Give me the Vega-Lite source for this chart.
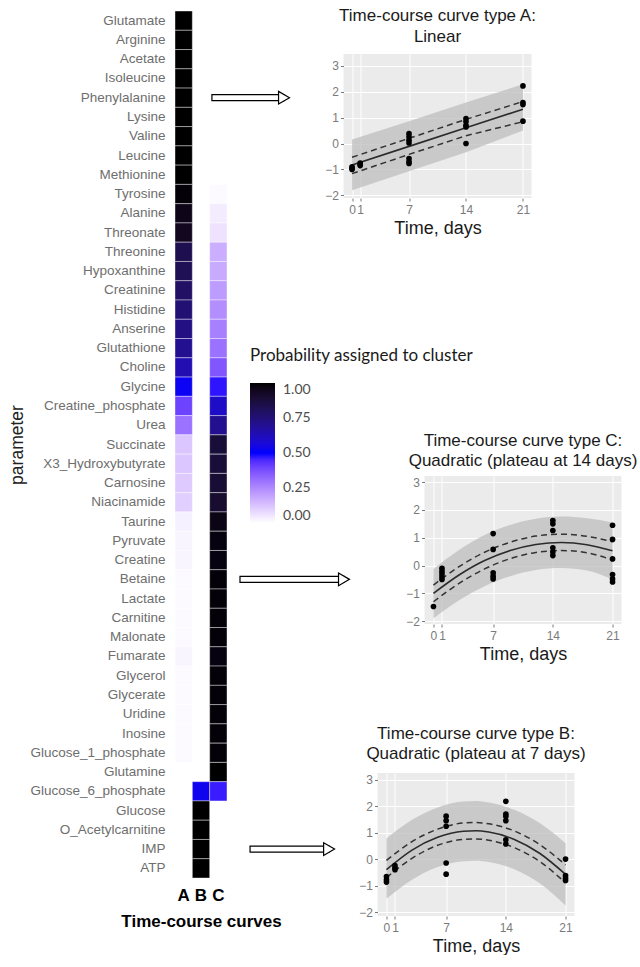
{
  "$schema": "https://vega.github.io/schema/vega-lite/v6.json",
  "background": "white",
  "padding": {"left": 8, "top": 7, "right": 0, "bottom": 0},
  "bounds": "flush",
  "spacing": 116.5,
  "config": {
    "view": {"stroke": null},
    "font": "Liberation Sans",
    "axisQuantitative": {"labelOverlap": false, "labelFontSize": 12, "labelColor": "#7a7a7a", "tickColor": "#7a7a7a", "tickSize": 3, "domain": false, "gridColor": "white", "gridWidth": 1, "labelFlush": false}
  },
  "datasets": {
    "heat": [
      {"parameter": "Glutamate", "cluster": "A", "prob": 1},
      {"parameter": "Arginine", "cluster": "A", "prob": 1},
      {"parameter": "Acetate", "cluster": "A", "prob": 1},
      {"parameter": "Isoleucine", "cluster": "A", "prob": 1},
      {"parameter": "Phenylalanine", "cluster": "A", "prob": 1},
      {"parameter": "Lysine", "cluster": "A", "prob": 1},
      {"parameter": "Valine", "cluster": "A", "prob": 1},
      {"parameter": "Leucine", "cluster": "A", "prob": 1},
      {"parameter": "Methionine", "cluster": "A", "prob": 1},
      {"parameter": "Tyrosine", "cluster": "A", "prob": 0.99},
      {"parameter": "Tyrosine", "cluster": "C", "prob": 0.01},
      {"parameter": "Alanine", "cluster": "A", "prob": 0.96},
      {"parameter": "Alanine", "cluster": "C", "prob": 0.04},
      {"parameter": "Threonate", "cluster": "A", "prob": 0.94},
      {"parameter": "Threonate", "cluster": "C", "prob": 0.06},
      {"parameter": "Threonine", "cluster": "A", "prob": 0.83},
      {"parameter": "Threonine", "cluster": "C", "prob": 0.17},
      {"parameter": "Hypoxanthine", "cluster": "A", "prob": 0.82},
      {"parameter": "Hypoxanthine", "cluster": "C", "prob": 0.18},
      {"parameter": "Creatinine", "cluster": "A", "prob": 0.79},
      {"parameter": "Creatinine", "cluster": "C", "prob": 0.21},
      {"parameter": "Histidine", "cluster": "A", "prob": 0.76},
      {"parameter": "Histidine", "cluster": "C", "prob": 0.24},
      {"parameter": "Anserine", "cluster": "A", "prob": 0.73},
      {"parameter": "Anserine", "cluster": "C", "prob": 0.27},
      {"parameter": "Glutathione", "cluster": "A", "prob": 0.7},
      {"parameter": "Glutathione", "cluster": "C", "prob": 0.3},
      {"parameter": "Choline", "cluster": "A", "prob": 0.64},
      {"parameter": "Choline", "cluster": "C", "prob": 0.36},
      {"parameter": "Glycine", "cluster": "A", "prob": 0.52},
      {"parameter": "Glycine", "cluster": "C", "prob": 0.48},
      {"parameter": "Creatine_phosphate", "cluster": "A", "prob": 0.4},
      {"parameter": "Creatine_phosphate", "cluster": "C", "prob": 0.6},
      {"parameter": "Urea", "cluster": "A", "prob": 0.3},
      {"parameter": "Urea", "cluster": "C", "prob": 0.7},
      {"parameter": "Succinate", "cluster": "A", "prob": 0.12},
      {"parameter": "Succinate", "cluster": "C", "prob": 0.88},
      {"parameter": "X3_Hydroxybutyrate", "cluster": "A", "prob": 0.12},
      {"parameter": "X3_Hydroxybutyrate", "cluster": "C", "prob": 0.88},
      {"parameter": "Carnosine", "cluster": "A", "prob": 0.11},
      {"parameter": "Carnosine", "cluster": "C", "prob": 0.89},
      {"parameter": "Niacinamide", "cluster": "A", "prob": 0.1},
      {"parameter": "Niacinamide", "cluster": "C", "prob": 0.9},
      {"parameter": "Taurine", "cluster": "A", "prob": 0.03},
      {"parameter": "Taurine", "cluster": "C", "prob": 0.97},
      {"parameter": "Pyruvate", "cluster": "A", "prob": 0.02},
      {"parameter": "Pyruvate", "cluster": "C", "prob": 0.98},
      {"parameter": "Creatine", "cluster": "A", "prob": 0.02},
      {"parameter": "Creatine", "cluster": "C", "prob": 0.98},
      {"parameter": "Betaine", "cluster": "A", "prob": 0.01},
      {"parameter": "Betaine", "cluster": "C", "prob": 0.99},
      {"parameter": "Lactate", "cluster": "A", "prob": 0.01},
      {"parameter": "Lactate", "cluster": "C", "prob": 0.99},
      {"parameter": "Carnitine", "cluster": "A", "prob": 0.01},
      {"parameter": "Carnitine", "cluster": "C", "prob": 0.99},
      {"parameter": "Malonate", "cluster": "A", "prob": 0.01},
      {"parameter": "Malonate", "cluster": "C", "prob": 0.99},
      {"parameter": "Fumarate", "cluster": "A", "prob": 0.02},
      {"parameter": "Fumarate", "cluster": "C", "prob": 0.98},
      {"parameter": "Glycerol", "cluster": "A", "prob": 0.01},
      {"parameter": "Glycerol", "cluster": "C", "prob": 0.99},
      {"parameter": "Glycerate", "cluster": "A", "prob": 0.01},
      {"parameter": "Glycerate", "cluster": "C", "prob": 0.99},
      {"parameter": "Uridine", "cluster": "A", "prob": 0.01},
      {"parameter": "Uridine", "cluster": "C", "prob": 0.99},
      {"parameter": "Inosine", "cluster": "A", "prob": 0.01},
      {"parameter": "Inosine", "cluster": "C", "prob": 0.99},
      {"parameter": "Glucose_1_phosphate", "cluster": "A", "prob": 0.01},
      {"parameter": "Glucose_1_phosphate", "cluster": "C", "prob": 0.99},
      {"parameter": "Glutamine", "cluster": "C", "prob": 1},
      {"parameter": "Glucose_6_phosphate", "cluster": "B", "prob": 0.53},
      {"parameter": "Glucose_6_phosphate", "cluster": "C", "prob": 0.47},
      {"parameter": "Glucose", "cluster": "B", "prob": 1},
      {"parameter": "O_Acetylcarnitine", "cluster": "B", "prob": 1},
      {"parameter": "IMP", "cluster": "B", "prob": 1},
      {"parameter": "ATP", "cluster": "B", "prob": 1}
    ],
    "arrows": [
      {"parameter": "Phenylalanine", "x_start": 2.13, "x_end": 6.29},
      {"parameter": "Betaine", "x_start": 3.75, "x_end": 9.75},
      {"parameter": "IMP", "x_start": 4.33, "x_end": 8.89}
    ],
    "curveA": [
      {"t": 0, "fit": -0.83, "ci_lo": -1.16, "ci_hi": -0.53, "band_lo": -1.8, "band_hi": 0.15},
      {"t": 7, "fit": -0.11, "ci_lo": -0.42, "ci_hi": 0.2, "band_lo": -1.07, "band_hi": 0.86},
      {"t": 14, "fit": 0.61, "ci_lo": 0.3, "ci_hi": 0.93, "band_lo": -0.34, "band_hi": 1.58},
      {"t": 21, "fit": 1.32, "ci_lo": 0.84, "ci_hi": 1.62, "band_lo": 0.5, "band_hi": 2.28}
    ],
    "pointsA": [
      {"t": 0, "value": -0.9}, {"t": 0, "value": -0.95}, {"t": 0, "value": -1.0},
      {"t": 1, "value": -0.75}, {"t": 1, "value": -0.8}, {"t": 1, "value": -0.85},
      {"t": 7, "value": 0.38}, {"t": 7, "value": 0.26}, {"t": 7, "value": 0.13}, {"t": 7, "value": 0.02}, {"t": 7, "value": -0.58}, {"t": 7, "value": -0.7}, {"t": 7, "value": -0.77},
      {"t": 14, "value": 0.96}, {"t": 14, "value": 0.85}, {"t": 14, "value": 0.7}, {"t": 14, "value": 0.64}, {"t": 14, "value": 0.0},
      {"t": 21, "value": 2.22}, {"t": 21, "value": 1.58}, {"t": 21, "value": 1.5}, {"t": 21, "value": 0.86}
    ],
    "curveC": [
      {"t": 0, "fit": -1.0, "ci_lo": -1.3, "ci_hi": -0.7, "band_lo": -1.9, "band_hi": -0.12},
      {"t": 3, "fit": -0.34, "ci_lo": -0.64, "ci_hi": -0.04, "band_lo": -1.25, "band_hi": 0.56},
      {"t": 6, "fit": 0.18, "ci_lo": -0.12, "ci_hi": 0.48, "band_lo": -0.74, "band_hi": 1.1},
      {"t": 9, "fit": 0.54, "ci_lo": 0.25, "ci_hi": 0.84, "band_lo": -0.38, "band_hi": 1.46},
      {"t": 12, "fit": 0.76, "ci_lo": 0.47, "ci_hi": 1.06, "band_lo": -0.16, "band_hi": 1.68},
      {"t": 15, "fit": 0.83, "ci_lo": 0.54, "ci_hi": 1.13, "band_lo": -0.09, "band_hi": 1.76},
      {"t": 18, "fit": 0.75, "ci_lo": 0.46, "ci_hi": 1.05, "band_lo": -0.18, "band_hi": 1.7},
      {"t": 21, "fit": 0.53, "ci_lo": 0.2, "ci_hi": 0.86, "band_lo": -0.5, "band_hi": 1.55}
    ],
    "pointsC": [
      {"t": 0, "value": -1.47},
      {"t": 1, "value": -0.1}, {"t": 1, "value": -0.2}, {"t": 1, "value": -0.3}, {"t": 1, "value": -0.4}, {"t": 1, "value": -0.5},
      {"t": 7, "value": 1.15}, {"t": 7, "value": 0.58}, {"t": 7, "value": -0.26}, {"t": 7, "value": -0.38}, {"t": 7, "value": -0.48},
      {"t": 14, "value": 1.62}, {"t": 14, "value": 1.5}, {"t": 14, "value": 1.26}, {"t": 14, "value": 0.64}, {"t": 14, "value": 0.49}, {"t": 14, "value": 0.36},
      {"t": 21, "value": 1.45}, {"t": 21, "value": 0.94}, {"t": 21, "value": 0.24}, {"t": 21, "value": -0.32}, {"t": 21, "value": -0.48}, {"t": 21, "value": -0.59}
    ],
    "curveB": [
      {"t": 0, "fit": -0.4, "ci_lo": -0.7, "ci_hi": -0.05, "band_lo": -1.5, "band_hi": 0.78},
      {"t": 3, "fit": 0.34, "ci_lo": 0.03, "ci_hi": 0.66, "band_lo": -0.78, "band_hi": 1.48},
      {"t": 6, "fit": 0.82, "ci_lo": 0.52, "ci_hi": 1.13, "band_lo": -0.3, "band_hi": 1.95},
      {"t": 9, "fit": 1.05, "ci_lo": 0.74, "ci_hi": 1.36, "band_lo": -0.08, "band_hi": 2.17},
      {"t": 10.5, "fit": 1.07, "ci_lo": 0.76, "ci_hi": 1.38, "band_lo": -0.06, "band_hi": 2.19},
      {"t": 12, "fit": 1.02, "ci_lo": 0.71, "ci_hi": 1.33, "band_lo": -0.11, "band_hi": 2.14},
      {"t": 15, "fit": 0.74, "ci_lo": 0.43, "ci_hi": 1.06, "band_lo": -0.38, "band_hi": 1.86},
      {"t": 18, "fit": 0.21, "ci_lo": -0.1, "ci_hi": 0.54, "band_lo": -0.92, "band_hi": 1.35},
      {"t": 21, "fit": -0.58, "ci_lo": -0.9, "ci_hi": -0.22, "band_lo": -1.75, "band_hi": 0.6}
    ],
    "pointsB": [
      {"t": 0, "value": -0.66}, {"t": 0, "value": -0.78}, {"t": 0, "value": -0.87},
      {"t": 1, "value": -0.25}, {"t": 1, "value": -0.34}, {"t": 1, "value": -0.4},
      {"t": 7, "value": 1.62}, {"t": 7, "value": 1.45}, {"t": 7, "value": 1.24}, {"t": 7, "value": -0.15}, {"t": 7, "value": -0.57},
      {"t": 14, "value": 2.18}, {"t": 14, "value": 1.7}, {"t": 14, "value": 1.62}, {"t": 14, "value": 1.45}, {"t": 14, "value": 0.73}, {"t": 14, "value": 0.57},
      {"t": 21, "value": 0.0}, {"t": 21, "value": -0.62}, {"t": 21, "value": -0.72}, {"t": 21, "value": -0.81}
    ],
    "empty": []
  },
  "hconcat": [
    {
      "width": 52,
      "height": 867,
      "resolve": {"scale": {"x": "independent"}, "axis": {"x": "independent"}},
      "layer": [
        {
          "data": {"name": "heat"},
          "mark": {"type": "rect", "stroke": "white", "strokeWidth": 0.4},
          "encoding": {
            "x": {"field": "cluster", "type": "nominal", "scale": {"domain": ["A", "B", "C"], "paddingInner": 0, "paddingOuter": 0},
              "axis": {"orient": "bottom", "title": "Time-course curves", "titleFontSize": 17, "titleFontWeight": "bold", "titleColor": "black", "labelFontSize": 17, "labelFontWeight": "bold", "labelColor": "black", "labelAngle": 0, "ticks": false, "domain": false, "labelPadding": 9, "titlePadding": 10}},
            "y": {"field": "parameter", "type": "nominal",
              "scale": {"domain": ["Glutamate", "Arginine", "Acetate", "Isoleucine", "Phenylalanine", "Lysine", "Valine", "Leucine", "Methionine", "Tyrosine", "Alanine", "Threonate", "Threonine", "Hypoxanthine", "Creatinine", "Histidine", "Anserine", "Glutathione", "Choline", "Glycine", "Creatine_phosphate", "Urea", "Succinate", "X3_Hydroxybutyrate", "Carnosine", "Niacinamide", "Taurine", "Pyruvate", "Creatine", "Betaine", "Lactate", "Carnitine", "Malonate", "Fumarate", "Glycerol", "Glycerate", "Uridine", "Inosine", "Glucose_1_phosphate", "Glutamine", "Glucose_6_phosphate", "Glucose", "O_Acetylcarnitine", "IMP", "ATP"], "paddingInner": 0, "paddingOuter": 0},
              "axis": {"title": "parameter", "titleFontSize": 17.5, "titleFontWeight": "normal", "titleColor": "#222222", "labelFontSize": 13.5, "labelColor": "#6e6e6e", "ticks": false, "domain": false, "labelPadding": 10, "titlePadding": 3}},
            "color": {"field": "prob", "type": "quantitative",
              "scale": {"domain": [0, 0.5, 1], "range": ["#ffffff", "#0000ff", "#000000"], "interpolate": "lab"},
              "legend": {"orient": "none", "legendX": 75, "legendY": 337, "direction": "vertical", "title": "Probability assigned to cluster", "titleFont": "Lato", "titleFontSize": 17, "titleFontWeight": "normal", "titleColor": "#1a1a1a", "titlePadding": 18, "titleLimit": 400, "gradientLength": 140, "gradientThickness": 25, "gradientStrokeWidth": 0, "labelFont": "Lato", "labelFontSize": 14, "labelColor": "#4d4d4d", "labelOffset": 8, "values": [0, 0.25, 0.5, 0.75, 1], "format": ".2f", "labelOverlap": false}}
          }
        },
        {
          "data": {"name": "arrows"},
          "mark": {"type": "bar", "height": 6, "fill": "white", "stroke": "black", "strokeWidth": 1.2},
          "encoding": {
            "x": {"field": "x_start", "type": "quantitative", "scale": {"domain": [0, 3], "nice": false, "zero": false}, "axis": null},
            "x2": {"field": "x_end"},
            "y": {"field": "parameter", "type": "nominal"}
          }
        },
        {
          "data": {"name": "arrows"},
          "mark": {"type": "point", "shape": "triangle-right", "filled": true, "fill": "white", "stroke": "black", "strokeWidth": 1.2, "size": 160, "opacity": 1},
          "encoding": {
            "x": {"field": "x_end", "type": "quantitative", "scale": {"domain": [0, 3], "nice": false, "zero": false}, "axis": null},
            "y": {"field": "parameter", "type": "nominal"}
          }
        }
      ]
    },
    {
      "bounds": "flush",
      "spacing": 42,
      "vconcat": [
        {"width": 1, "height": 1, "data": {"name": "empty"}, "mark": {"type": "point", "opacity": 0}, "encoding": {}},
        {
          "bounds": "flush",
          "spacing": 278,
          "vconcat": [
            {
              "width": 188, "height": 144,
              "view": {"fill": "#ebebeb", "stroke": null},
              "title": {"text": ["Time-course curve type A:", "Linear"], "fontSize": 17, "fontWeight": "normal", "color": "#1a1a1a", "anchor": "middle", "offset": 8, "lineHeight": 21},
              "encoding": {
                "x": {"field": "t", "type": "quantitative", "title": "Time, days", "scale": {"domain": [-1.05, 22.05], "nice": false, "zero": false},
                  "axis": {"values": [0, 1, 7, 14, 21], "titleFontSize": 18, "titleFontWeight": "normal", "titleColor": "#1a1a1a", "labelPadding": 3, "titlePadding": 4}}
              },
              "layer": [
                {"data": {"name": "curveA"}, "mark": {"type": "area", "color": "#bdbdbd", "opacity": 0.75},
                  "encoding": {
                    "y": {"field": "band_lo", "type": "quantitative", "title": null, "scale": {"domain": [-2.1, 3.45], "nice": false, "zero": false}, "axis": {"values": [-2, -1, 0, 1, 2, 3], "labelPadding": 2}},
                    "y2": {"field": "band_hi"}
                  }},
                {"data": {"name": "curveA"}, "mark": {"type": "line", "color": "#333333", "strokeWidth": 1.5, "strokeDash": [6, 4]},
                  "encoding": {"y": {"field": "ci_hi", "type": "quantitative", "title": null, "axis": {"values": [-2, -1, 0, 1, 2, 3], "labelPadding": 2}}}},
                {"data": {"name": "curveA"}, "mark": {"type": "line", "color": "#333333", "strokeWidth": 1.5, "strokeDash": [6, 4]},
                  "encoding": {"y": {"field": "ci_lo", "type": "quantitative", "title": null, "axis": {"values": [-2, -1, 0, 1, 2, 3], "labelPadding": 2}}}},
                {"data": {"name": "curveA"}, "mark": {"type": "line", "color": "#2b2b2b", "strokeWidth": 1.6},
                  "encoding": {"y": {"field": "fit", "type": "quantitative", "title": null, "axis": {"values": [-2, -1, 0, 1, 2, 3], "labelPadding": 2}}}},
                {"data": {"name": "pointsA"}, "mark": {"type": "circle", "color": "black", "size": 32, "opacity": 1},
                  "encoding": {"y": {"field": "value", "type": "quantitative", "title": null, "axis": {"values": [-2, -1, 0, 1, 2, 3], "labelPadding": 2}}}}
              ]
            },
            {
              "bounds": "flush",
              "spacing": 297,
              "vconcat": [
                {
                  "bounds": "flush",
                  "spacing": 0,
                  "hconcat": [
                    {"width": 80.5, "height": 148, "data": {"name": "empty"}, "mark": {"type": "point", "opacity": 0}, "encoding": {}},
                    {
                      "width": 197, "height": 148,
                      "view": {"fill": "#ebebeb", "stroke": null},
                      "title": {"text": ["Time-course curve type C:", "Quadratic (plateau at 14 days)"], "fontSize": 17, "fontWeight": "normal", "color": "#1a1a1a", "anchor": "middle", "offset": 6, "lineHeight": 20},
                      "encoding": {
                        "x": {"field": "t", "type": "quantitative", "title": "Time, days", "scale": {"domain": [-1.05, 22.05], "nice": false, "zero": false},
                          "axis": {"values": [0, 1, 7, 14, 21], "titleFontSize": 18, "titleFontWeight": "normal", "titleColor": "#1a1a1a", "labelPadding": 3, "titlePadding": 4}}
                      },
                      "layer": [
                        {"data": {"name": "curveC"}, "mark": {"type": "area", "color": "#bdbdbd", "opacity": 0.75, "interpolate": "monotone"},
                          "encoding": {
                            "y": {"field": "band_lo", "type": "quantitative", "title": null, "scale": {"domain": [-2.1, 3.22], "nice": false, "zero": false}, "axis": {"values": [-2, -1, 0, 1, 2, 3], "labelPadding": 2}},
                            "y2": {"field": "band_hi"}
                          }},
                        {"data": {"name": "curveC"}, "mark": {"type": "line", "color": "#333333", "strokeWidth": 1.5, "strokeDash": [6, 4], "interpolate": "monotone"},
                          "encoding": {"y": {"field": "ci_hi", "type": "quantitative", "title": null, "axis": {"values": [-2, -1, 0, 1, 2, 3], "labelPadding": 2}}}},
                        {"data": {"name": "curveC"}, "mark": {"type": "line", "color": "#333333", "strokeWidth": 1.5, "strokeDash": [6, 4], "interpolate": "monotone"},
                          "encoding": {"y": {"field": "ci_lo", "type": "quantitative", "title": null, "axis": {"values": [-2, -1, 0, 1, 2, 3], "labelPadding": 2}}}},
                        {"data": {"name": "curveC"}, "mark": {"type": "line", "color": "#2b2b2b", "strokeWidth": 1.6, "interpolate": "monotone"},
                          "encoding": {"y": {"field": "fit", "type": "quantitative", "title": null, "axis": {"values": [-2, -1, 0, 1, 2, 3], "labelPadding": 2}}}},
                        {"data": {"name": "pointsC"}, "mark": {"type": "circle", "color": "black", "size": 32, "opacity": 1},
                          "encoding": {"y": {"field": "value", "type": "quantitative", "title": null, "axis": {"values": [-2, -1, 0, 1, 2, 3], "labelPadding": 2}}}}
                      ]
                    }
                  ]
                },
                {
                  "bounds": "flush",
                  "spacing": 0,
                  "hconcat": [
                    {"width": 33.5, "height": 143, "data": {"name": "empty"}, "mark": {"type": "point", "opacity": 0}, "encoding": {}},
                    {
                      "width": 197, "height": 143,
                      "view": {"fill": "#ebebeb", "stroke": null},
                      "title": {"text": ["Time-course curve type B:", "Quadratic (plateau at 7 days)"], "fontSize": 17, "fontWeight": "normal", "color": "#1a1a1a", "anchor": "middle", "offset": 10, "lineHeight": 20},
                      "encoding": {
                        "x": {"field": "t", "type": "quantitative", "title": "Time, days", "scale": {"domain": [-1.05, 22.05], "nice": false, "zero": false},
                          "axis": {"values": [0, 1, 7, 14, 21], "titleFontSize": 18, "titleFontWeight": "normal", "titleColor": "#1a1a1a", "labelPadding": 3, "titlePadding": 4}}
                      },
                      "layer": [
                        {"data": {"name": "curveB"}, "mark": {"type": "area", "color": "#bdbdbd", "opacity": 0.75, "interpolate": "monotone"},
                          "encoding": {
                            "y": {"field": "band_lo", "type": "quantitative", "title": null, "scale": {"domain": [-2.15, 3.25], "nice": false, "zero": false}, "axis": {"values": [-2, -1, 0, 1, 2, 3], "labelPadding": 2}},
                            "y2": {"field": "band_hi"}
                          }},
                        {"data": {"name": "curveB"}, "mark": {"type": "line", "color": "#333333", "strokeWidth": 1.5, "strokeDash": [6, 4], "interpolate": "monotone"},
                          "encoding": {"y": {"field": "ci_hi", "type": "quantitative", "title": null, "axis": {"values": [-2, -1, 0, 1, 2, 3], "labelPadding": 2}}}},
                        {"data": {"name": "curveB"}, "mark": {"type": "line", "color": "#333333", "strokeWidth": 1.5, "strokeDash": [6, 4], "interpolate": "monotone"},
                          "encoding": {"y": {"field": "ci_lo", "type": "quantitative", "title": null, "axis": {"values": [-2, -1, 0, 1, 2, 3], "labelPadding": 2}}}},
                        {"data": {"name": "curveB"}, "mark": {"type": "line", "color": "#2b2b2b", "strokeWidth": 1.6, "interpolate": "monotone"},
                          "encoding": {"y": {"field": "fit", "type": "quantitative", "title": null, "axis": {"values": [-2, -1, 0, 1, 2, 3], "labelPadding": 2}}}},
                        {"data": {"name": "pointsB"}, "mark": {"type": "circle", "color": "black", "size": 32, "opacity": 1},
                          "encoding": {"y": {"field": "value", "type": "quantitative", "title": null, "axis": {"values": [-2, -1, 0, 1, 2, 3], "labelPadding": 2}}}}
                      ]
                    }
                  ]
                }
              ]
            }
          ]
        }
      ]
    }
  ]
}
